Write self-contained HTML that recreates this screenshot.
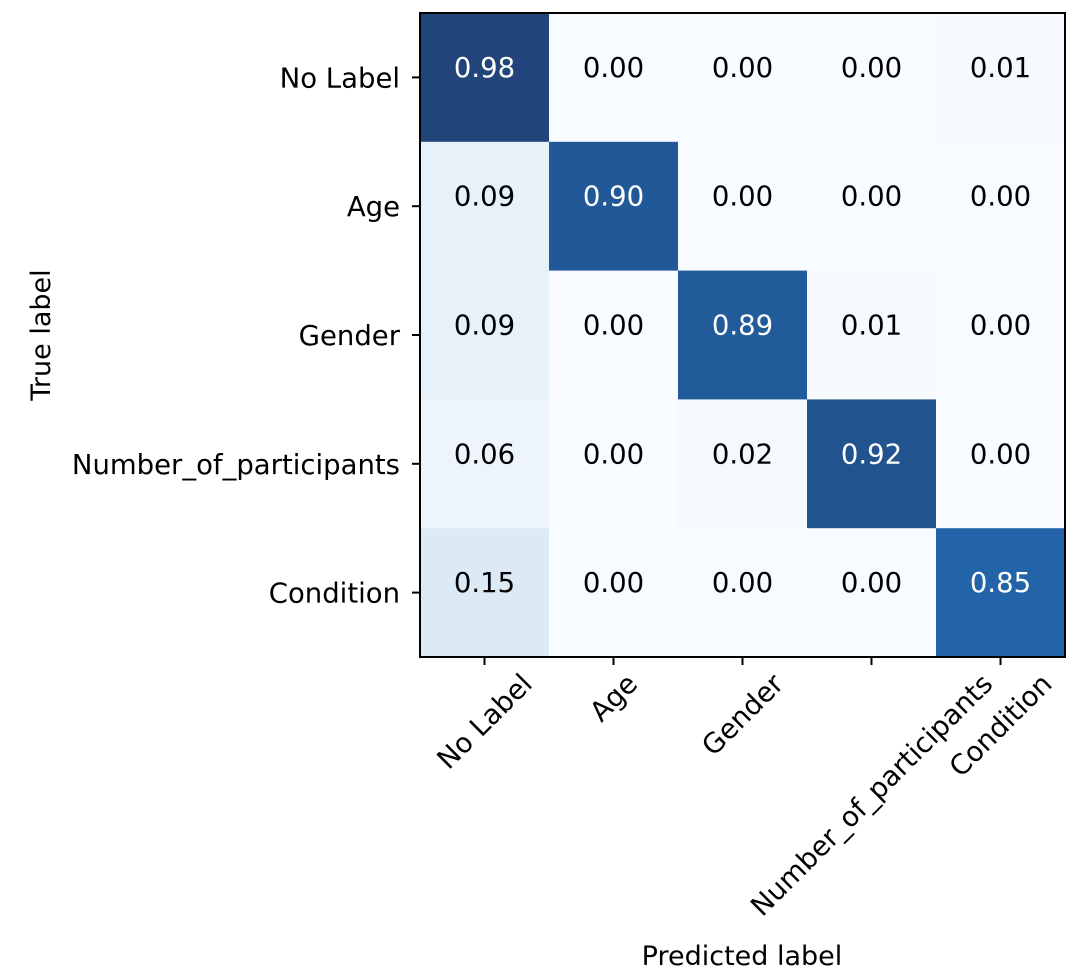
<!DOCTYPE html>
<html><head><meta charset="utf-8"><style>body{margin:0;background:#fff}svg{display:block;font-family:"DejaVu Sans","Liberation Sans",sans-serif}</style></head>
<body>
<svg id="chart" width="1080" height="976" viewBox="0 0 1080 976">
<g id="cells"></g><g id="annots"></g>
<rect x="420" y="13" width="645" height="644" fill="none" stroke="#000" stroke-width="2"/>
<g id="yticks"></g><g id="xticks"></g>
<text transform="translate(50,335) rotate(-90)" text-anchor="middle" font-size="27">True label</text>
<text x="742" y="965" text-anchor="middle" font-size="27">Predicted label</text>
</svg>
<script>
const labels = ["No Label","Age","Gender","Number_of_participants","Condition"];
const row0 = [0.98,0.00,0.00,0.00,0.01];
const row1 = [0.09,0.90,0.00,0.00,0.00];
const row2 = [0.09,0.00,0.89,0.01,0.00];
const row3 = [0.06,0.00,0.02,0.92,0.00];
const row4 = [0.15,0.00,0.00,0.00,0.85];
const matrix = [row0,row1,row2,row3,row4];

const X0=420,Y0=13,W=645,H=644,n=labels.length,cw=W/n,ch=H/n,FS=27.5;
const xc=i=>X0+cw*(i+0.5), yc=i=>Y0+ch*(i+0.5);
const stops=["#f7fbff","#deebf7","#c6dbef","#9ecae1","#6baed6","#4292c6","#2171b5","#08519c","#08306b"].map(h=>[1,3,5].map(k=>parseInt(h.substr(k,2),16)));
let vmax=0; matrix.forEach(r=>r.forEach(v=>{if(v>vmax)vmax=v;}));
function color(v){let t=Math.max(0,Math.min(1,v/vmax))*8;let i=Math.min(7,Math.floor(t)),f=t-i;
 const c=stops[i].map((a,k)=>a+(stops[i+1][k]-a)*f).map(a=>Math.round(a*0.9+255*0.1));return `rgb(${c})`;}
const NS="http://www.w3.org/2000/svg";
const cells=document.getElementById('cells'),ann=document.getElementById('annots');
matrix.forEach((r,i)=>r.forEach((v,j)=>{
 const rc=document.createElementNS(NS,'rect');
 
 
 rc.setAttribute('x',X0+cw*j);rc.setAttribute('y',Y0+ch*i);rc.setAttribute('width',cw+0.5);rc.setAttribute('height',ch+0.5);rc.setAttribute('fill',color(v));cells.appendChild(rc);
 const t=document.createElementNS(NS,'text');
 
 
 t.setAttribute('x',xc(j));t.setAttribute('y',yc(i)-0.5);t.setAttribute('text-anchor','middle');t.setAttribute('font-size',FS);
 t.setAttribute('fill',v>vmax/2?'#fff':'#000');t.textContent=v.toFixed(2);ann.appendChild(t);
}));
const yt=document.getElementById('yticks'),xt=document.getElementById('xticks');
labels.forEach((l,i)=>{
 const ln=document.createElementNS(NS,'line');
 
 
 ln.setAttribute('x1',412);ln.setAttribute('x2',420);ln.setAttribute('y1',yc(i));ln.setAttribute('y2',yc(i));ln.setAttribute('stroke','#000');ln.setAttribute('stroke-width','2');yt.appendChild(ln);
 const t=document.createElementNS(NS,'text');
 
 
 t.setAttribute('x',400);t.setAttribute('y',yc(i)+10);t.setAttribute('text-anchor','end');t.setAttribute('font-size',FS);t.textContent=l;yt.appendChild(t);
 const lx=document.createElementNS(NS,'line');
 
 
 lx.setAttribute('x1',xc(i));lx.setAttribute('x2',xc(i));lx.setAttribute('y1',657);lx.setAttribute('y2',665);lx.setAttribute('stroke','#000');lx.setAttribute('stroke-width','2');xt.appendChild(lx);
 const tx=document.createElementNS(NS,'text');
 
 
 tx.setAttribute('text-anchor','middle');tx.setAttribute('font-size',FS);tx.textContent=l;xt.appendChild(tx);
 const w=tx.getComputedTextLength(),h=25;const bh=(w+h)*0.7071;
 const cy=670+bh/2;
 tx.setAttribute('transform',`translate(${xc(i)},${cy}) rotate(-45) translate(0,9.5)`);
});
</script>
</body></html>
